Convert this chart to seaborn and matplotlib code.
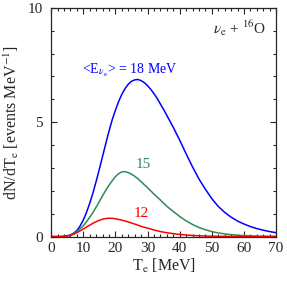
import numpy as np
import pandas as pd
import matplotlib
matplotlib.use("Agg")
import matplotlib.pyplot as plt
import seaborn as sns

# electron kinetic energy grid [MeV]: 1 MeV steps up to 40, then 2 MeV
t_e = list(range(0, 41)) + list(range(42, 71, 2))

# dN/dTe, one list per mean neutrino energy
spec_18 = [0, 0, 0, 0, 0.01, 0.03, 0.07, 0.15, 0.26, 0.46,
           0.72, 1.05, 1.45, 1.90, 2.40, 2.94, 3.50, 4.06, 4.60, 5.10,
           5.52, 5.90, 6.22, 6.47, 6.66, 6.79, 6.85, 6.87, 6.82, 6.73,
           6.60, 6.44, 6.25, 6.04, 5.80, 5.56, 5.30, 5.04, 4.78, 4.50,
           4.22,
           3.62, 3.05, 2.52, 2.07, 1.66, 1.32, 1.06, 0.85, 0.68, 0.55,
           0.44, 0.35, 0.28, 0.22, 0.17]
spec_15 = [0, 0, 0, 0, 0.01, 0.03, 0.06, 0.13, 0.22, 0.34,
           0.47, 0.65, 0.84, 1.05, 1.28, 1.53, 1.78, 2.02, 2.24, 2.44,
           2.62, 2.75, 2.83, 2.84, 2.80, 2.73, 2.64, 2.53, 2.40, 2.27,
           2.14, 2.00, 1.86, 1.73, 1.60, 1.46, 1.33, 1.21, 1.10, 0.99,
           0.88,
           0.69, 0.53, 0.40, 0.30, 0.22, 0.16, 0.12, 0.085, 0.06, 0.045,
           0.032, 0.023, 0.016, 0.012, 0.008]
spec_12 = [0, 0, 0, 0, 0.01, 0.025, 0.05, 0.10, 0.17, 0.25,
           0.33, 0.42, 0.50, 0.58, 0.65, 0.71, 0.76, 0.79, 0.80, 0.80,
           0.78, 0.75, 0.72, 0.68, 0.64, 0.595, 0.55, 0.50, 0.45, 0.41,
           0.37, 0.33, 0.29, 0.255, 0.22, 0.195, 0.17, 0.15, 0.13, 0.11,
           0.095,
           0.07, 0.05, 0.036, 0.026, 0.018, 0.013, 0.009, 0.006, 0.004,
           0.003, 0.002, 0.001, 0.001, 0, 0]

labels = ["18", "15", "12"]
colores = {"18": "#0000ff", "15": "#2e8b57", "12": "#ff0000"}

rows = []
for lab, spec in zip(labels, [spec_18, spec_15, spec_12]):
    for t, v in zip(t_e, spec):
        rows.append({"Te": t, "dNdTe": v, "E": lab})
df = pd.DataFrame(rows)

sns.set_style("ticks")
plt.rcParams["font.family"] = ["Liberation Serif", "DejaVu Serif"]
plt.rcParams["mathtext.fontset"] = "stix"

fig = plt.figure(figsize=(2.87, 2.81), dpi=100)
ax = fig.add_axes([0.178, 0.158, 0.784, 0.814])

sns.lineplot(data=df, x="Te", y="dNdTe", hue="E", palette=colores,
             linewidth=1.1, legend=False, ax=ax)

ax.set_xlim(0, 70)
ax.set_ylim(0, 10)
ax.set_xticks(range(0, 71, 10))
ax.set_xticks(range(0, 71, 2), minor=True)
ax.set_yticks([0, 5, 10])
ax.set_yticks(range(0, 11), minor=True)
ax.tick_params(which="both", direction="in", top=True, right=True,
               labelsize=11, width=0.8)
ax.tick_params(axis="x", pad=4)
ax.tick_params(axis="y", pad=6)
ax.tick_params(which="major", length=4)
ax.tick_params(which="minor", length=2)
for s in ax.spines.values():
    s.set_linewidth(0.9)

ax.set_xlabel(r"T$_{\rm e}$ [MeV]", fontsize=11.5, labelpad=1)
ax.set_ylabel(r"dN/dT$_{\rm e}$ [events MeV$^{-1}$]", fontsize=11.5, labelpad=5)

ax.text(0.955, 0.91, r"$\nu_{\rm e}$ + $^{16}$O", transform=ax.transAxes,
        ha="right", va="center", fontsize=11)
ax.text(0.35, 7.25, r"<E$_{\nu_{\rm e}}$> = 18 MeV", color=colores["18"],
        ha="center", va="center", fontsize=10, transform=ax.get_yaxis_transform())
ax.text(0.41, 3.15, "15", color=colores["15"], ha="center", va="center",
        fontsize=11, transform=ax.get_yaxis_transform())
ax.text(0.40, 1.0, "12", color=colores["12"], ha="center", va="center",
        fontsize=11, transform=ax.get_yaxis_transform())

fig.savefig("out.png", dpi=100)
